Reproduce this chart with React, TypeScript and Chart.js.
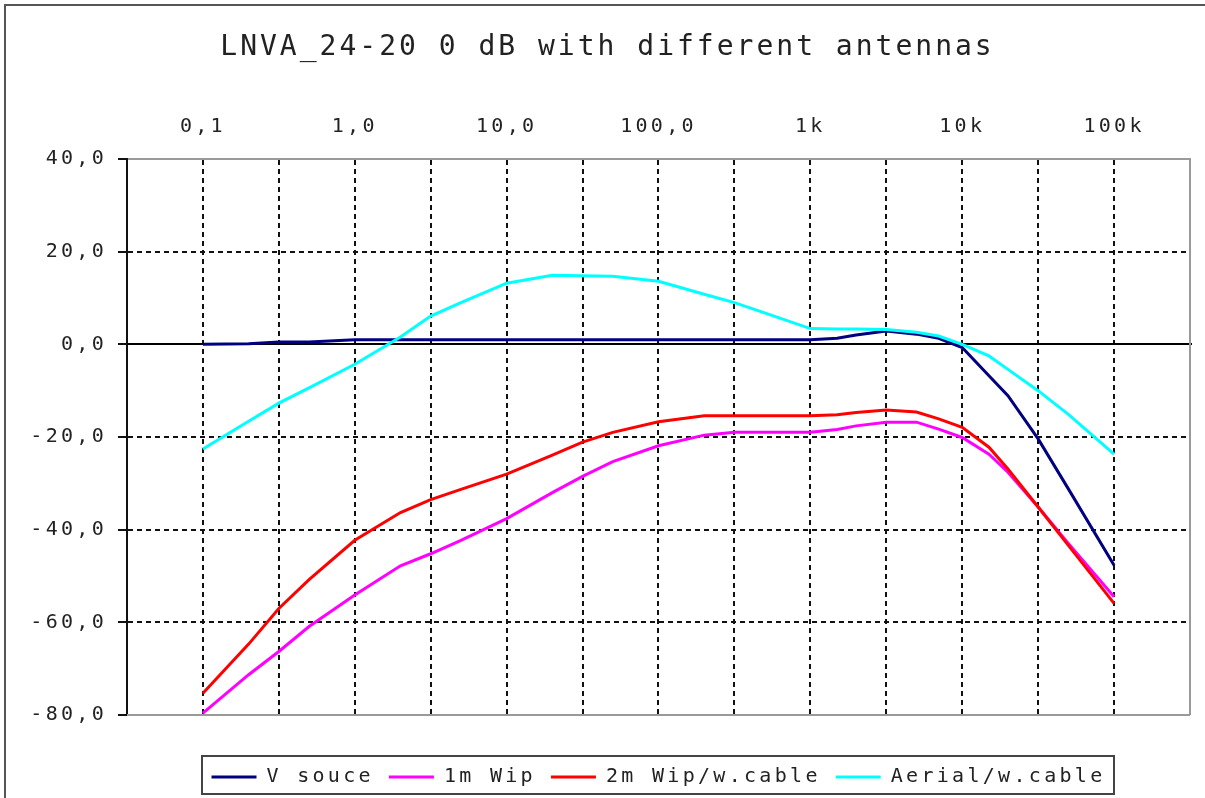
import React, { useEffect, useRef } from 'react';
import { Chart, registerables } from 'chart.js';

Chart.register(...registerables);

const TITLE = 'LNVA_24-20 0 dB with different antennas';

const freqs = [0.1, 0.2, 0.3162, 0.5, 1, 2, 3.162, 5, 10, 20, 31.62, 50, 100, 200, 316.2, 500, 1000, 1500, 2000, 3162, 5000, 7000, 10000, 15000, 20000, 31623, 50000, 100000];

const vSource = [0.0, 0.1, 0.5, 0.5, 1.0, 1.0, 1.0, 1.0, 1.0, 1.0, 1.0, 1.0, 1.0, 1.0, 1.0, 1.0, 1.0, 1.3, 2.0, 2.9, 2.2, 1.3, -0.7, -6.8, -11.1, -20.4, -31.2, -47.7];
const wip1m = [-79.6, -71.3, -66.3, -60.9, -54.1, -47.8, -45.2, -42.3, -37.6, -32.0, -28.5, -25.3, -21.9, -19.6, -19.0, -19.0, -19.0, -18.4, -17.6, -16.8, -16.8, -18.3, -20.1, -23.7, -27.6, -35.1, -43.0, -54.5];
const wip2m = [-75.3, -64.7, -57.0, -50.8, -42.3, -36.3, -33.5, -31.3, -28.0, -23.9, -21.1, -19.0, -16.7, -15.4, -15.4, -15.4, -15.4, -15.2, -14.7, -14.2, -14.6, -16.1, -17.9, -22.2, -26.9, -35.1, -43.4, -55.9];
const aerial = [-22.6, -16.6, -12.7, -9.4, -4.3, 1.6, 6.1, 9.0, 13.2, 14.9, 14.8, 14.7, 13.6, 10.8, 9.0, 6.8, 3.4, 3.3, 3.3, 3.2, 2.6, 1.8, 0.0, -2.5, -5.4, -10.0, -15.1, -23.7];

const seriesNames = ['V souce', '1m Wip', '2m Wip/w.cable', 'Aerial/w.cable'];
const seriesColors = ['#000080', '#ff00ff', '#ff0000', '#00ffff'];

const xTickValues = [0.1, 0.3162, 1, 3.162, 10, 31.62, 100, 316.2, 1000, 3162, 10000, 31623, 100000];
const xTickLabels = ['0,1', '', '1,0', '', '10,0', '', '100,0', '', '1k', '', '10k', '', '100k'];

const FONT = '"DejaVu Sans Mono", monospace';

export default function App() {
  const ref = useRef<HTMLCanvasElement>(null);

  useEffect(() => {
    const canvas = ref.current;
    if (!canvas) return;

    const setSpacing = (chart: any) => {
      (chart.ctx as any).letterSpacing = '3.3px';
    };

    const spacingPlugin = {
      id: 'spacing',
      beforeInit: setSpacing,
      beforeUpdate: setSpacing,
      beforeLayout: setSpacing,
      beforeDraw: setSpacing,
    };

    const framePlugin = {
      id: 'frame',
      beforeDatasetsDraw(chart: any) {
        const { ctx, chartArea: a, scales } = chart;
        const y0 = Math.round(scales.y.getPixelForValue(0));
        ctx.save();
        ctx.setLineDash([]);
        ctx.lineWidth = 2;
        ctx.strokeStyle = '#000';
        ctx.beginPath();
        ctx.moveTo(a.left, y0);
        ctx.lineTo(a.right + 2, y0);
        ctx.stroke();
        ctx.strokeStyle = '#9a9a9a';
        ctx.beginPath();
        ctx.moveTo(a.right, a.top);
        ctx.lineTo(a.right, a.bottom);
        ctx.moveTo(a.left, a.bottom);
        ctx.lineTo(a.right, a.bottom);
        ctx.stroke();
        ctx.restore();
      },
      afterDraw(chart: any) {
        const { ctx } = chart;
        ctx.save();
        ctx.setLineDash([]);
        ctx.strokeStyle = '#555';
        ctx.lineWidth = 2;
        ctx.beginPath();
        ctx.moveTo(5, 800);
        ctx.lineTo(5, 5);
        ctx.lineTo(1210, 5);
        ctx.stroke();
        const lg = chart.legend;
        if (lg && lg.legendHitBoxes && lg.legendHitBoxes.length) {
          const hb = lg.legendHitBoxes;
          const first = hb[0];
          const last = hb[hb.length - 1];
          const l = Math.round(first.left - 10);
          const r = Math.round(last.left + last.width + 9);
          const t = Math.round(lg.top + 4);
          const b = Math.round(lg.bottom - 3);
          ctx.strokeStyle = '#444';
          ctx.lineWidth = 2;
          ctx.strokeRect(l, t, r - l, b - t);
        }
        (ctx as any).letterSpacing = '3px';
        ctx.font = '28px ' + FONT;
        ctx.fillStyle = '#222';
        ctx.textAlign = 'center';
        ctx.textBaseline = 'middle';
        ctx.fillText(TITLE, 607.5, 48);
        ctx.restore();
      },
    };

    const makeData = (vals: number[]) => freqs.map((f, i) => ({ x: f, y: vals[i] }));
    const allVals = [vSource, wip1m, wip2m, aerial];
    const orders = [4, 3, 2, 1];

    const chart = new Chart(canvas, {
      type: 'line',
      data: {
        datasets: allVals.map((vals, i) => ({
          label: seriesNames[i],
          data: makeData(vals),
          borderColor: seriesColors[i],
          backgroundColor: seriesColors[i],
          borderWidth: 3,
          pointRadius: 0,
          tension: 0,
          order: orders[i],
        })),
      },
      options: {
        animation: false,
        responsive: false,
        layout: { padding: { left: 0, top: 0, right: 15, bottom: 1 } },
        plugins: {
          title: { display: false },
          tooltip: { enabled: false },
          legend: {
            display: true,
            position: 'bottom',
            fullSize: false,
            labels: {
              font: { family: FONT, size: 20 },
              color: '#222',
              usePointStyle: true,
              pointStyle: 'line',
              pointStyleWidth: 45,
              padding: 15,
              sort: (a: any, b: any) => a.datasetIndex - b.datasetIndex,
            },
          },
        },
        scales: {
          x: {
            type: 'logarithmic',
            position: 'top',
            min: 0.031623,
            max: 316228,
            afterBuildTicks: (s: any) => {
              s.ticks = xTickValues.map((v) => ({ value: v }));
            },
            afterFit: (s: any) => {
              s.height = 159;
            },
            ticks: {
              autoSkip: false,
              maxRotation: 0,
              padding: 20,
              color: '#222',
              font: { family: FONT, size: 20 },
              callback: (_v: any, i: number) => xTickLabels[i],
            },
            grid: {
              display: true,
              drawTicks: false,
              color: '#111',
              lineWidth: 2,
            },
            border: { display: true, color: '#9a9a9a', width: 2, dash: [5, 4] },
          },
          x2: {
            type: 'linear',
            position: 'bottom',
            display: true,
            afterFit: (s: any) => {
              s.height = 37;
            },
            ticks: { display: false },
            grid: { display: false, drawTicks: false },
            border: { display: false },
          },
          y: {
            type: 'linear',
            position: 'left',
            min: -80,
            max: 40,
            afterFit: (s: any) => {
              s.width = 127;
            },
            ticks: {
              stepSize: 20,
              padding: 11,
              color: '#222',
              font: { family: FONT, size: 20 },
              callback: (v: any) => Number(v).toFixed(1).replace('.', ','),
            },
            grid: {
              display: true,
              drawTicks: true,
              tickLength: 9,
              tickWidth: 2,
              tickColor: '#111',
              lineWidth: 2,
              color: (c: any) =>
                c.tick && (c.tick.value === 40 || c.tick.value === -80) ? 'rgba(0,0,0,0)' : '#111',
            },
            border: { display: true, color: '#111', width: 2, dash: [5, 4] },
          },
        },
      },
      plugins: [spacingPlugin, framePlugin],
    } as any);

    return () => {
      chart.destroy();
    };
  }, []);

  return (
    <div style={{ position: 'absolute', left: 0, top: 0, width: 1205, height: 798, background: '#fff' }}>
      <canvas ref={ref} width={1205} height={798} style={{ display: 'block' }} />
    </div>
  );
}
